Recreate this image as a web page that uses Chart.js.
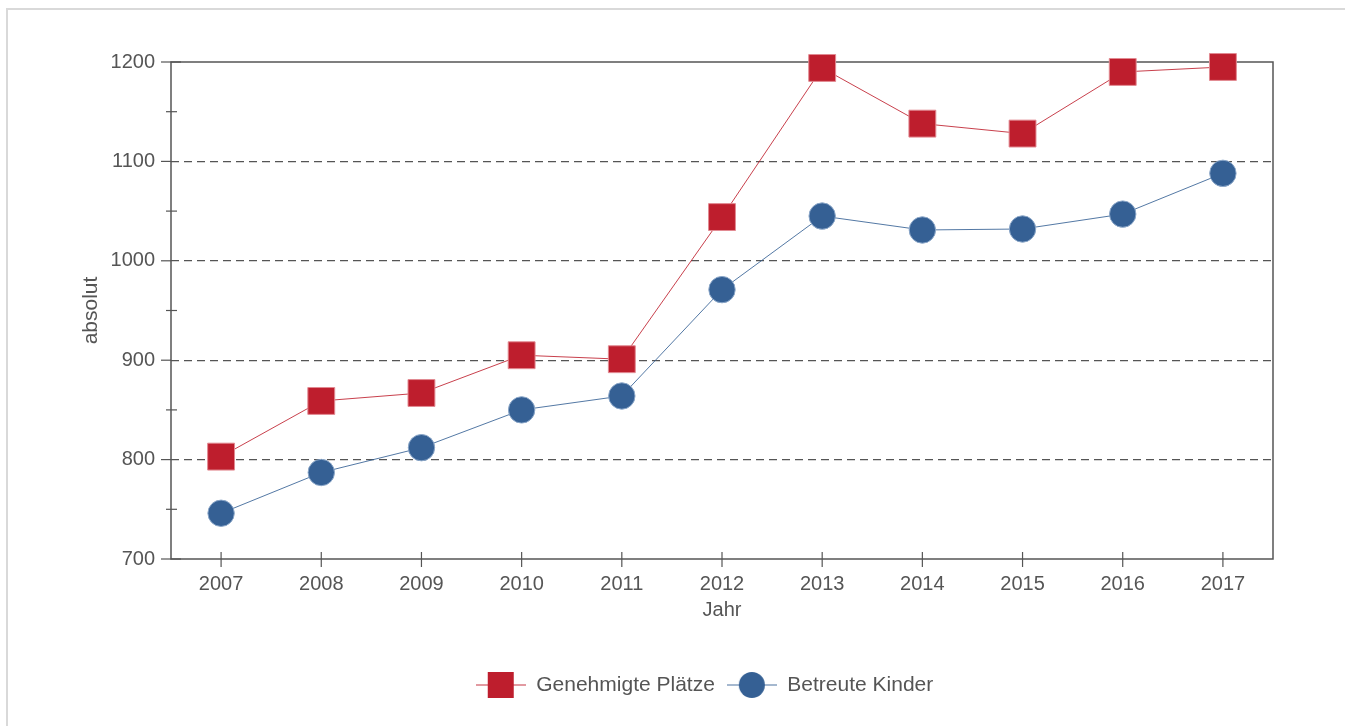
<!DOCTYPE html>
<html>
<head>
<meta charset="utf-8">
<script src="https://cdn.jsdelivr.net/npm/chart.js@4"></script>
<style>
body { margin: 0; background: #fff; overflow: hidden; }
#rahmen { position: absolute; left: 6px; top: 8px; width: 1400px; height: 800px; border-top: 2px solid #d9d9d9; border-left: 2px solid #d9d9d9; }
#wrap { position: absolute; left: 0; top: 0; width: 1345px; height: 726px; }
</style>
</head>
<body>
<div id="rahmen"></div>
<div id="wrap"><canvas id="myChart"></canvas></div>
<script>
// Daten
const jahre = ['2007', '2008', '2009', '2010', '2011', '2012', '2013', '2014', '2015', '2016', '2017'];
const genehmigtePlaetze = [803, 859, 867, 905, 901, 1044, 1194, 1138, 1128, 1190, 1195];
const betreuteKinder = [746, 787, 812, 850, 864, 971, 1045, 1031, 1032, 1047, 1088];
const yTicks = [700, 800, 900, 1000, 1100, 1200];
const yMinorTicks = [750, 850, 950, 1050, 1150];

const rot = '#be1e2d';
const blau = '#356094';
const grau = '#555555';
const schrift = 'Liberation Sans, Arial, sans-serif';

// Legenden-Symbole: Linie mit Marker
function legendenSymbol(farbe, form) {
    const c = document.createElement('canvas');
    c.width = 50; c.height = 28;
    const g = c.getContext('2d');
    g.strokeStyle = farbe; g.globalAlpha = 0.6; g.lineWidth = 1.5;
    g.beginPath(); g.moveTo(0, 14); g.lineTo(50, 14); g.stroke();
    g.globalAlpha = 1; g.fillStyle = farbe;
    if (form === 'rect') {
        g.fillRect(12, 1, 26, 26);
    } else {
        g.beginPath(); g.arc(25, 14, 13, 0, Math.PI * 2); g.fill();
    }
    return c;
}

// Rahmen und Tickstriche
const rahmenPlugin = {
    id: 'rahmen',
    beforeDatasetsDraw(chart) {
        const { ctx, chartArea: a, scales: { x, y } } = chart;
        const linie = (x1, y1, x2, y2) => { ctx.beginPath(); ctx.moveTo(x1, y1); ctx.lineTo(x2, y2); ctx.stroke(); };
        ctx.save();
        ctx.strokeStyle = grau;
        ctx.lineWidth = 1.5;
        ctx.strokeRect(a.left, a.top, a.right - a.left, a.bottom - a.top);
        ctx.lineWidth = 1.2;
        yTicks.forEach(v => {
            const py = y.getPixelForValue(v);
            const innen = (v === 700 || v === 1200) ? 10 : 0;
            linie(a.left - 10, py, a.left + innen, py);
        });
        yMinorTicks.forEach(v => {
            const py = y.getPixelForValue(v);
            linie(a.left - 5, py, a.left + 6, py);
        });
        jahre.forEach((j, i) => {
            const px = x.getPixelForValue(i);
            linie(px, a.bottom - 7, px, a.bottom + 8);
        });
        ctx.restore();
    }
};

// Legende etwas nach rechts schieben
const legendeVerschieben = {
    id: 'legendeVerschieben',
    afterLayout(chart) {
        chart.legend.left += 68;
        chart.legend.right += 68;
    }
};

Chart.defaults.font.family = schrift;
Chart.defaults.color = grau;

const ctx = document.getElementById('myChart').getContext('2d');
const myChart = new Chart(ctx, {
    type: 'line',
    data: {
        labels: jahre,
        datasets: [{
            label: 'Genehmigte Plätze',
            data: genehmigtePlaetze,
            borderColor: 'rgba(190,30,45,0.85)',
            borderWidth: 1,
            backgroundColor: rot,
            pointStyle: 'rect',
            pointRadius: 19,
            pointBackgroundColor: rot,
            pointBorderColor: '#e28a92',
            pointBorderWidth: 1,
            clip: false
        }, {
            label: 'Betreute Kinder',
            data: betreuteKinder,
            borderColor: 'rgba(53,96,148,0.85)',
            borderWidth: 1,
            backgroundColor: blau,
            pointStyle: 'circle',
            pointRadius: 13.2,
            pointBackgroundColor: blau,
            pointBorderColor: '#8aa6c8',
            pointBorderWidth: 1,
            clip: false
        }]
    },
    options: {
        responsive: true,
        maintainAspectRatio: false,
        animation: false,
        layout: { padding: { top: 62, right: 72, bottom: 20.5, left: 0 } },
        scales: {
            x: {
                offset: true,
                grid: { display: false },
                border: { display: false },
                ticks: { padding: 5, font: { size: 20 }, color: grau, maxRotation: 0 },
                title: { display: true, text: 'Jahr', font: { size: 20 }, color: grau, padding: { top: 0, bottom: 40 } },
                afterFit(scale) { scale.height = 103.5; }
            },
            y: {
                min: 700,
                max: 1200,
                border: { display: false, dash: [8, 5] },
                grid: {
                    drawTicks: false,
                    lineWidth: 1.2,
                    color: c => (c.tick && (c.tick.value === 700 || c.tick.value === 1200)) ? 'rgba(0,0,0,0)' : grau
                },
                ticks: {
                    stepSize: 100,
                    padding: 16,
                    font: { size: 20 },
                    color: grau,
                    callback: v => String(v) // ohne Tausendertrennzeichen
                },
                title: { display: true, text: 'absolut', font: { size: 21 }, color: grau, padding: { top: 79, bottom: 0 } },
                afterFit(scale) { scale.width = 171; }
            }
        },
        plugins: {
            legend: {
                position: 'bottom',
                labels: {
                    usePointStyle: true,
                    pointStyleWidth: 50,
                    boxHeight: 26,
                    padding: 12,
                    color: grau,
                    font: { size: 21 },
                    generateLabels: function(chart) {
                        return chart.data.datasets.map((ds, i) => ({
                            text: ds.label,
                            pointStyle: legendenSymbol(ds.pointBackgroundColor, ds.pointStyle),
                            fillStyle: ds.pointBackgroundColor,
                            strokeStyle: ds.pointBackgroundColor,
                            lineWidth: 0,
                            hidden: false,
                            datasetIndex: i,
                            fontColor: grau
                        }));
                    }
                }
            },
            tooltip: { enabled: false }
        }
    },
    plugins: [rahmenPlugin, legendeVerschieben]
});
</script>
</body>
</html>
